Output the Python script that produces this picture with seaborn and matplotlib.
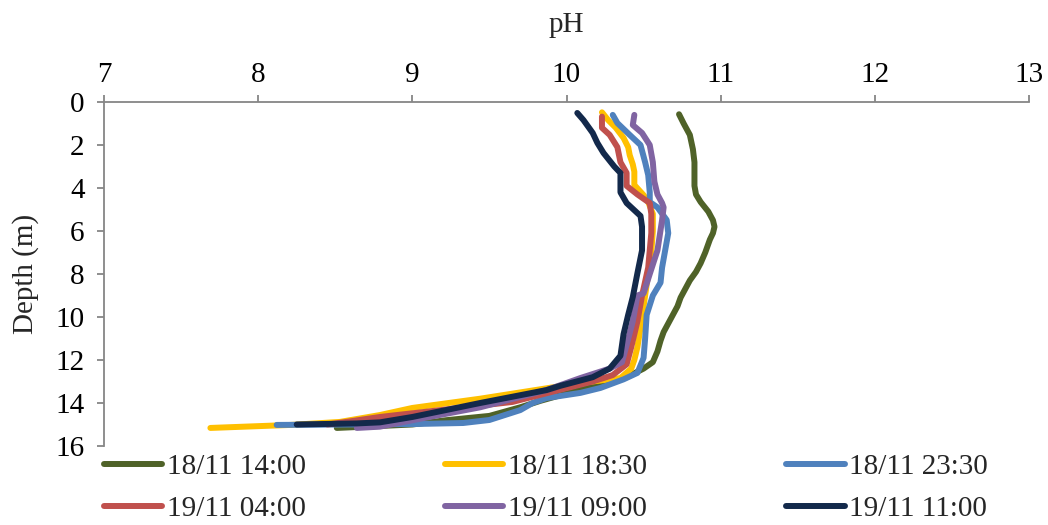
import matplotlib
matplotlib.use("Agg")
import matplotlib.pyplot as plt
import seaborn as sns
import pandas as pd

# ---- data (depth in m, pH) ----
labels = ["18/11 14:00", "18/11 18:30", "18/11 23:30",
          "19/11 04:00", "19/11 09:00", "19/11 11:00"]
colors = ["#4F6228", "#FFC000", "#4F81BD", "#C0504D", "#8064A2", "#13294B"]

depth_1400 = [0.57, 1.0, 1.53, 2.2, 2.8, 3.3, 3.9, 4.3, 4.65, 5.1, 5.5, 5.8, 6.1, 6.4, 7.0, 7.5, 7.9,
              8.3, 8.7, 9.1, 9.5, 9.9, 10.3, 10.7, 11.1, 11.6, 12.1, 12.4, 12.8, 13.25, 13.6, 13.9,
              14.2, 14.6, 14.8, 15.0, 15.16]
ph_1400 = [10.73, 10.76, 10.80, 10.82, 10.83, 10.83, 10.83, 10.84, 10.87, 10.92, 10.95, 10.96, 10.95,
           10.93, 10.90, 10.87, 10.84, 10.80, 10.77, 10.74, 10.72, 10.69, 10.66, 10.63, 10.61, 10.59,
           10.56, 10.50, 10.39, 10.17, 9.98, 9.83, 9.70, 9.50, 9.22, 9.0, 8.51]

depth_1830 = [0.48, 0.84, 1.2, 1.67, 2.1, 2.47, 2.9, 3.24, 3.86, 4.33, 4.65, 5.2, 6.0, 7.0, 8.0, 9.0,
              10.0, 10.5, 11.4, 12.0, 12.4, 12.84, 13.07, 13.8, 14.23, 14.56, 14.88, 15.02, 15.16]
ph_1830 = [10.23, 10.27, 10.32, 10.37, 10.40, 10.41, 10.43, 10.44, 10.44, 10.50, 10.53, 10.56, 10.56,
           10.55, 10.53, 10.51, 10.49, 10.48, 10.46, 10.44, 10.42, 10.35, 10.09, 9.44, 9.0, 8.79,
           8.53, 8.21, 7.69]

depth_2330 = [0.6, 0.98, 1.53, 2.0, 2.8, 3.4, 4.2, 4.65, 4.9, 5.49, 6.1, 6.9, 7.7, 8.4, 9.0, 9.9, 11.0,
              11.9, 12.6, 12.9, 13.3, 13.53, 13.77, 14.0, 14.33, 14.79, 14.93, 14.98, 15.02]
ph_2330 = [10.30, 10.33, 10.41, 10.48, 10.51, 10.53, 10.54, 10.54, 10.59, 10.65, 10.66, 10.64, 10.62,
           10.61, 10.56, 10.52, 10.51, 10.50, 10.46, 10.37, 10.22, 10.09, 9.87, 9.78, 9.70, 9.50,
           9.33, 9.0, 8.12]

depth_0400 = [0.68, 1.2, 1.53, 2.1, 2.8, 3.3, 3.9, 4.3, 4.7, 5.2, 6.1, 7.7, 9.0, 10.2, 11.4, 12.2,
              12.7, 13.0, 13.4, 13.95, 14.3, 14.65, 14.85, 15.0]
ph_0400 = [10.23, 10.23, 10.28, 10.33, 10.35, 10.39, 10.39, 10.46, 10.54, 10.55, 10.55, 10.53, 10.49,
           10.46, 10.42, 10.39, 10.30, 10.17, 9.95, 9.65, 9.22, 8.79, 8.6, 8.45]

depth_0900 = [0.6, 1.07, 1.44, 2.0, 2.8, 3.7, 4.3, 4.7, 4.9, 5.49, 6.9, 8.0, 8.9, 9.0, 10.2, 11.3,
              12.1, 12.4, 12.84, 13.4, 14.2, 14.65, 15.1, 15.16]
ph_0900 = [10.44, 10.43, 10.49, 10.54, 10.56, 10.57, 10.59, 10.62, 10.63, 10.62, 10.59, 10.54, 10.50,
           10.46, 10.43, 10.39, 10.36, 10.28, 10.09, 9.87, 9.44, 9.11, 8.79, 8.64]

depth_1100 = [0.51, 0.84, 1.44, 1.9, 2.37, 3.0, 3.3, 4.2, 4.7, 5.3, 5.8, 6.9, 7.96, 9.07, 9.9, 10.8,
              11.8, 12.4, 12.8, 13.2, 13.4, 14.0, 14.65, 14.9, 14.95, 15.0]
ph_1100 = [10.07, 10.11, 10.17, 10.20, 10.24, 10.31, 10.35, 10.35, 10.39, 10.48, 10.49, 10.49, 10.46,
           10.43, 10.40, 10.37, 10.35, 10.28, 10.17, 9.96, 9.87, 9.44, 9.0, 8.79, 8.64, 8.25]

depths = [depth_1400, depth_1830, depth_2330, depth_0400, depth_0900, depth_1100]
phs = [ph_1400, ph_1830, ph_2330, ph_0400, ph_0900, ph_1100]

xticks = [7, 8, 9, 10, 11, 12, 13]
yticks = [0, 2, 4, 6, 8, 10, 12, 14, 16]

# ---- plotting ----
sns.set_style("white")
plt.rcParams["font.family"] = ["Liberation Serif", "DejaVu Serif"]

fig = plt.figure(figsize=(10.48, 5.25), dpi=100)
ax = fig.add_axes([104 / 1048, 1 - 446 / 525, (1029 - 104) / 1048, (446 - 102) / 525])

for lab, col, d, p in zip(labels, colors, depths, phs):
    df = pd.DataFrame({"pH": p, "Depth": d})
    sns.lineplot(data=df, x="pH", y="Depth", sort=False, estimator=None, color=col,
                 linewidth=4.3, label=lab, ax=ax, solid_capstyle="round",
                 solid_joinstyle="round")

FS = 21
ax.set_xlim(7, 13)
ax.set_ylim(16, 0)
ax.set_xticks(xticks)
ax.set_yticks(yticks)
ax.xaxis.tick_top()
ax.xaxis.set_label_position("top")
ax.set_xlabel("pH", fontsize=FS, labelpad=22)
ax.set_ylabel("Depth (m)", fontsize=FS, labelpad=12)

gray = "#868686"
for s in ["right", "bottom"]:
    ax.spines[s].set_visible(False)
for s in ["top", "left"]:
    ax.spines[s].set_color(gray)
    ax.spines[s].set_linewidth(1.3)
ax.tick_params(axis="both", direction="out", length=5, width=1.3, color=gray,
               labelsize=FS, labelcolor="black")
ax.tick_params(axis="x", pad=5)
ax.tick_params(axis="y", pad=9, left=True)
ax.tick_params(axis="x", top=True, bottom=False)
ax.grid(False)

handles, labs = ax.get_legend_handles_labels()
order = [0, 3, 1, 4, 2, 5]
ax.legend([handles[i] for i in order], [labs[i] for i in order],
          ncol=3, frameon=False, fontsize=FS, handlelength=2.0, handletextpad=0.15,
          columnspacing=4.78, labelspacing=0.52, loc="upper left",
          bbox_to_anchor=(104 / 1048, 1 - 454 / 525), bbox_transform=fig.transFigure,
          borderaxespad=0, borderpad=0)

fig.savefig("out.png", dpi=100)
